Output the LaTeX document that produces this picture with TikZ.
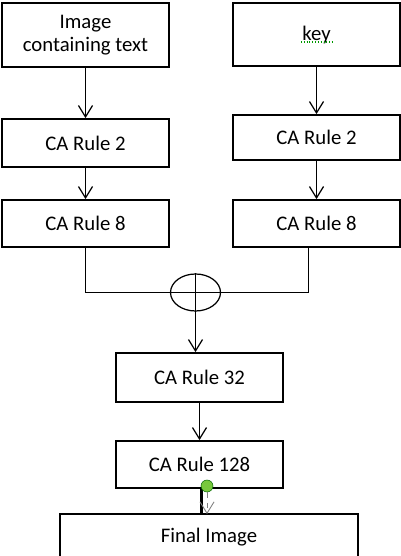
\documentclass[tikz,border=0pt]{standalone}
\usepackage{fontspec}
\setmainfont{Carlito}
\usetikzlibrary{arrows.meta,positioning,shapes.geometric}

\begin{document}
\begin{tikzpicture}[
    box/.style={draw,line width=1pt,minimum width=3.34cm,align=center,
      font=\fontsize{11.8}{13}\selectfont,inner sep=0pt},
    arr/.style={line width=0.7pt,-{Straight Barb[length=6.5pt,width=8pt]}},
    link/.style={line width=0.7pt}]
  \useasboundingbox (0,0) rectangle (8,11.12);
  % the two input columns
  \node[box,minimum height=1.28cm] (imgbox) at (1.71,10.42) {Image\\containing text};
  \node[box,minimum height=1.26cm] (keybox) at (6.33,10.43) {key};
  \node[box,minimum height=0.96cm] (lrtwo) at (1.71,8.26) {CA Rule 2};
  \node[box,minimum height=0.90cm] (rrtwo) at (6.33,8.37) {CA Rule 2};
  \node[box,minimum height=0.94cm] (lreight) at (1.71,6.65) {CA Rule 8};
  \node[box,minimum height=0.94cm] (rreight) at (6.33,6.65) {CA Rule 8};
  \draw[green!60!black,densely dotted,line width=0.6pt] (6.02,10.28) -- (6.66,10.28);
  \draw[arr] (imgbox) -- (lrtwo);
  \draw[arr] (lrtwo) -- (lreight);
  \draw[arr] (keybox) -- (rrtwo);
  \draw[arr] (rrtwo) -- (rreight);
  % xor of both halves
  \node[ellipse,draw,link,minimum width=1cm,minimum height=0.74cm,inner sep=0pt] (xor) at (3.91,5.27) {};
  \coordinate (rdrop) at ([xshift=-0.16cm]rreight.south);
  \draw[link] (lreight.south) |- (xor.west) -- (xor.east) -| (rdrop);
  \node[box,minimum height=0.98cm] (rthirtytwo) at (3.99,3.57) {CA Rule 32};
  \node[box,minimum height=0.94cm] (roneeight) at (3.99,1.83) {CA Rule 128};
  \draw[arr] (xor.north) -- (xor.north |- rthirtytwo.north);
  \draw[arr] (rthirtytwo) -- (roneeight);
  % output
  \node[box,draw=none,minimum width=5.92cm,minimum height=0.88cm] (final) at (4.18,0.38) {Final Image};
  \draw[line width=0.8pt] ([yshift=-1cm]final.south west) |- (final.north east) -- ++(0,-1.5);
  \coordinate (thick) at ([xshift=0.04cm]roneeight.south);
  \draw[line width=1.3pt] (thick) -- (thick |- final.north);
  \node[circle,draw=green!40!black,fill={rgb,255:red,120;green,200;blue,60},minimum size=0.24cm,inner sep=0pt,line width=0.3pt] (dot) at (4.14,1.40) {};
  \draw[arr,gray,dashed,line width=0.5pt] (dot) -- (dot |- final.north);
\end{tikzpicture}
\end{document}
